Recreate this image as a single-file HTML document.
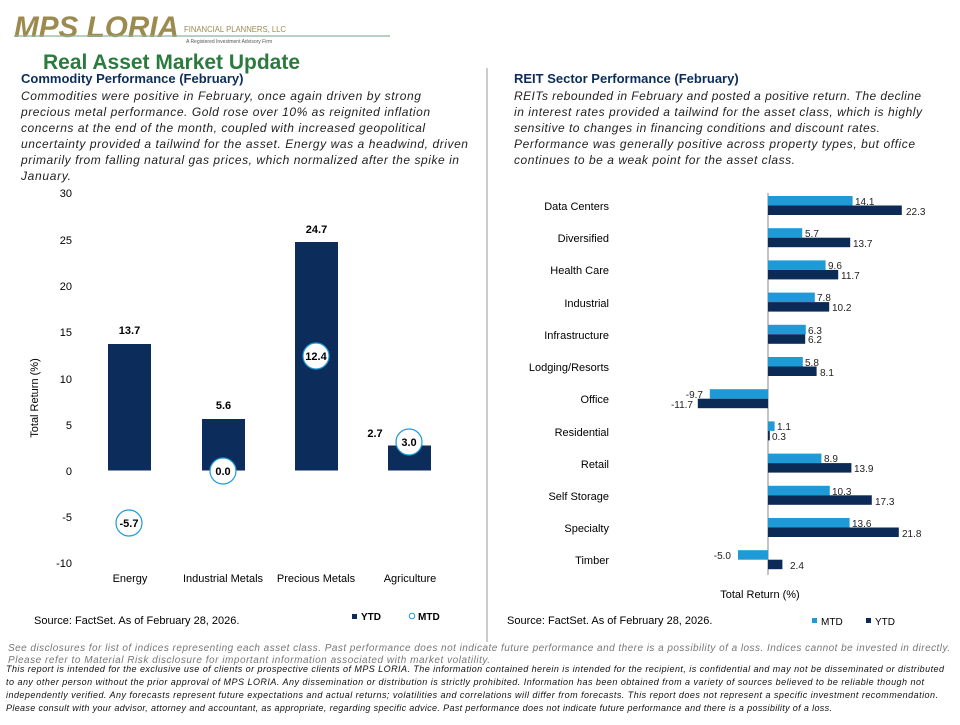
<!DOCTYPE html>
<html><head><meta charset="utf-8"><style>
body{margin:0;width:960px;height:720px;background:#fff;overflow:hidden;font-family:"Liberation Sans",sans-serif}
</style></head><body>
<svg width="960" height="720" xmlns="http://www.w3.org/2000/svg" font-family="Liberation Sans, sans-serif">
<!-- logo -->
<text x="14" y="37" font-size="30" font-weight="bold" fill="#9c8a4e" font-style="italic" textLength="165" lengthAdjust="spacingAndGlyphs">MPS LORIA</text>
<text x="184" y="32" font-size="8.5" fill="#9c8a4e" textLength="102" lengthAdjust="spacingAndGlyphs">FINANCIAL PLANNERS, LLC</text>
<line x1="14" y1="36" x2="390" y2="36" stroke="#8fb49a" stroke-width="1.2"/>
<text x="186" y="43" font-size="5" fill="#555">A Registered Investment Advisory Firm</text>
<text x="43" y="69" font-size="21" font-weight="bold" fill="#2b7a3e" textLength="257" lengthAdjust="spacingAndGlyphs">Real Asset Market Update</text>
<!-- left header -->
<text x="21" y="83" font-size="13" font-weight="bold" fill="#0c2d5c">Commodity Performance (February)</text>
<g font-size="12" font-style="italic" fill="#222" lengthAdjust="spacingAndGlyphs">
<text x="21" y="100" textLength="400">Commodities were positive in February, once again driven by strong</text>
<text x="21" y="116" textLength="409">precious metal performance. Gold rose over 10% as reignited inflation</text>
<text x="21" y="132" textLength="404">concerns at the end of the month, coupled with increased geopolitical</text>
<text x="21" y="148" textLength="447">uncertainty provided a tailwind for the asset. Energy was a headwind, driven</text>
<text x="21" y="164" textLength="438">primarily from falling natural gas prices, which normalized after the spike in</text>
<text x="21" y="180" textLength="50">January.</text>
</g>
<!-- right header -->
<text x="514" y="83" font-size="13" font-weight="bold" fill="#0c2d5c">REIT Sector Performance (February)</text>
<g font-size="12" font-style="italic" fill="#222" lengthAdjust="spacingAndGlyphs">
<text x="514" y="100" textLength="407">REITs rebounded in February and posted a positive return. The decline</text>
<text x="514" y="116" textLength="408">in interest rates provided a tailwind for the asset class, which is highly</text>
<text x="514" y="132" textLength="366">sensitive to changes in financing conditions and discount rates.</text>
<text x="514" y="148" textLength="401">Performance was generally positive across property types, but office</text>
<text x="514" y="164" textLength="281">continues to be a weak point for the asset class.</text>
</g>
<line x1="487" y1="68" x2="487" y2="642" stroke="#999" stroke-width="1"/>
<!-- left chart -->
<g font-size="11" fill="#000" text-anchor="end">
<text x="72" y="197">30</text><text x="72" y="244">25</text><text x="72" y="290">20</text>
<text x="72" y="336">15</text><text x="72" y="383">10</text><text x="72" y="429">5</text>
<text x="72" y="475">0</text><text x="72" y="521">-5</text><text x="72" y="567">-10</text>
</g>
<text transform="translate(38,398) rotate(-90)" font-size="11" text-anchor="middle">Total Return (%)</text>
<g fill="#0c2d5c">
<rect x="108" y="344" width="43" height="126.5"/>
<rect x="202" y="419" width="43" height="51.5"/>
<rect x="295" y="242" width="43" height="228.5"/>
<rect x="388" y="445.5" width="43" height="25"/>
</g>
<g font-size="11" font-weight="bold" text-anchor="middle">
<text x="129.5" y="334">13.7</text><text x="223.5" y="409">5.6</text>
<text x="316.5" y="233">24.7</text><text x="375" y="437">2.7</text>
</g>
<g fill="#fff" stroke="#1e9ad6" stroke-width="1.2">
<circle cx="129" cy="523" r="13"/><circle cx="223" cy="471" r="13"/>
<circle cx="316" cy="356" r="13"/><circle cx="409" cy="442" r="13"/>
</g>
<g font-size="11" font-weight="bold" text-anchor="middle">
<text x="129" y="527">-5.7</text><text x="223" y="475">0.0</text>
<text x="316" y="360">12.4</text><text x="409" y="446">3.0</text>
</g>
<g font-size="11" text-anchor="middle">
<text x="130" y="582">Energy</text><text x="223" y="582">Industrial Metals</text>
<text x="316" y="582">Precious Metals</text><text x="410" y="582">Agriculture</text>
</g>
<text x="34" y="624" font-size="11">Source: FactSet. As of February 28, 2026.</text>
<rect x="352" y="614" width="5" height="5" fill="#0c2d5c"/>
<text x="361" y="620" font-size="10" font-weight="bold">YTD</text>
<circle cx="412" cy="616" r="2.8" fill="#fff" stroke="#1e9ad6"/>
<text x="418" y="620" font-size="10" font-weight="bold">MTD</text>
<!-- right chart -->
<line x1="768" y1="193" x2="768" y2="575" stroke="#888" stroke-width="1"/>
<g font-size="11" text-anchor="end">
<text x="609" y="210">Data Centers</text><text x="609" y="242">Diversified</text>
<text x="609" y="274">Health Care</text><text x="609" y="307">Industrial</text>
<text x="609" y="339">Infrastructure</text><text x="609" y="371">Lodging/Resorts</text>
<text x="609" y="403">Office</text><text x="609" y="436">Residential</text>
<text x="609" y="468">Retail</text><text x="609" y="500">Self Storage</text>
<text x="609" y="532">Specialty</text><text x="609" y="564">Timber</text>
</g>
<g fill="#1e9ad6">
<rect x="768" y="196" width="84.6" height="9.5"/>
<rect x="768" y="228.2" width="34.2" height="9.5"/>
<rect x="768" y="260.4" width="57.6" height="9.5"/>
<rect x="768" y="292.6" width="46.8" height="9.5"/>
<rect x="768" y="324.8" width="37.8" height="9.5"/>
<rect x="768" y="357" width="34.8" height="9.5"/>
<rect x="709.8" y="389.2" width="58.2" height="9.5"/>
<rect x="768" y="421.4" width="6.6" height="9.5"/>
<rect x="768" y="453.6" width="53.4" height="9.5"/>
<rect x="768" y="485.8" width="61.8" height="9.5"/>
<rect x="768" y="518" width="81.6" height="9.5"/>
<rect x="738" y="550.2" width="30" height="9.5"/>
</g>
<g fill="#0b2a55">
<rect x="768" y="205.5" width="133.8" height="9.5"/>
<rect x="768" y="237.7" width="82.2" height="9.5"/>
<rect x="768" y="269.9" width="70.2" height="9.5"/>
<rect x="768" y="302.1" width="61.2" height="9.5"/>
<rect x="768" y="334.3" width="37.2" height="9.5"/>
<rect x="768" y="366.5" width="48.6" height="9.5"/>
<rect x="697.8" y="398.7" width="70.2" height="9.5"/>
<rect x="768" y="430.9" width="1.8" height="9.5"/>
<rect x="768" y="463.1" width="83.4" height="9.5"/>
<rect x="768" y="495.3" width="103.8" height="9.5"/>
<rect x="768" y="527.5" width="130.8" height="9.5"/>
<rect x="768" y="559.7" width="14.4" height="9.5"/>
</g>
<g font-size="10" fill="#222">
<text x="855" y="205">14.1</text><text x="906" y="215">22.3</text>
<text x="805" y="237">5.7</text><text x="853" y="247">13.7</text>
<text x="828" y="269">9.6</text><text x="841" y="279">11.7</text>
<text x="817" y="301">7.8</text><text x="832" y="311">10.2</text>
<text x="808" y="334">6.3</text><text x="808" y="343">6.2</text>
<text x="805" y="366">5.8</text><text x="820" y="376">8.1</text>
<text x="703" y="398" text-anchor="end">-9.7</text><text x="693" y="408" text-anchor="end">-11.7</text>
<text x="777" y="430">1.1</text><text x="772" y="440">0.3</text>
<text x="824" y="462">8.9</text><text x="854" y="472">13.9</text>
<text x="832" y="495">10.3</text><text x="875" y="505">17.3</text>
<text x="852" y="527">13.6</text><text x="902" y="537">21.8</text>
<text x="731" y="559" text-anchor="end">-5.0</text><text x="790" y="569">2.4</text>
</g>
<text x="760" y="598" font-size="11" text-anchor="middle">Total Return (%)</text>
<text x="507" y="624" font-size="11">Source: FactSet. As of February 28, 2026.</text>
<rect x="812" y="618" width="5" height="5" fill="#1e9ad6"/>
<text x="821" y="625" font-size="10">MTD</text>
<rect x="866" y="618" width="5" height="5" fill="#0b2a55"/>
<text x="875" y="625" font-size="10">YTD</text>
<!-- disclosures -->
<g font-size="10" font-style="italic" fill="#777" lengthAdjust="spacingAndGlyphs">
<text x="8" y="651" textLength="942">See disclosures for list of indices representing each asset class. Past performance does not indicate future performance and there is a possibility of a loss. Indices cannot be invested in directly.</text>
<text x="8" y="663" textLength="482">Please refer to Material Risk disclosure for important information associated with market volatility.</text>
</g>
<g font-size="9" font-style="italic" fill="#111" lengthAdjust="spacingAndGlyphs">
<text x="6" y="672" textLength="938">This report is intended for the exclusive use of clients or prospective clients of MPS LORIA. The information contained herein is intended for the recipient, is confidential and may not be disseminated or distributed</text>
<text x="6" y="685" textLength="918">to any other person without the prior approval of MPS LORIA. Any dissemination or distribution is strictly prohibited. Information has been obtained from a variety of sources believed to be reliable though not</text>
<text x="6" y="698" textLength="932">independently verified. Any forecasts represent future expectations and actual returns; volatilities and correlations will differ from forecasts. This report does not represent a specific investment recommendation.</text>
<text x="6" y="711" textLength="826">Please consult with your advisor, attorney and accountant, as appropriate, regarding specific advice. Past performance does not indicate future performance and there is a possibility of a loss.</text>
</g>
</svg>
</body></html>
